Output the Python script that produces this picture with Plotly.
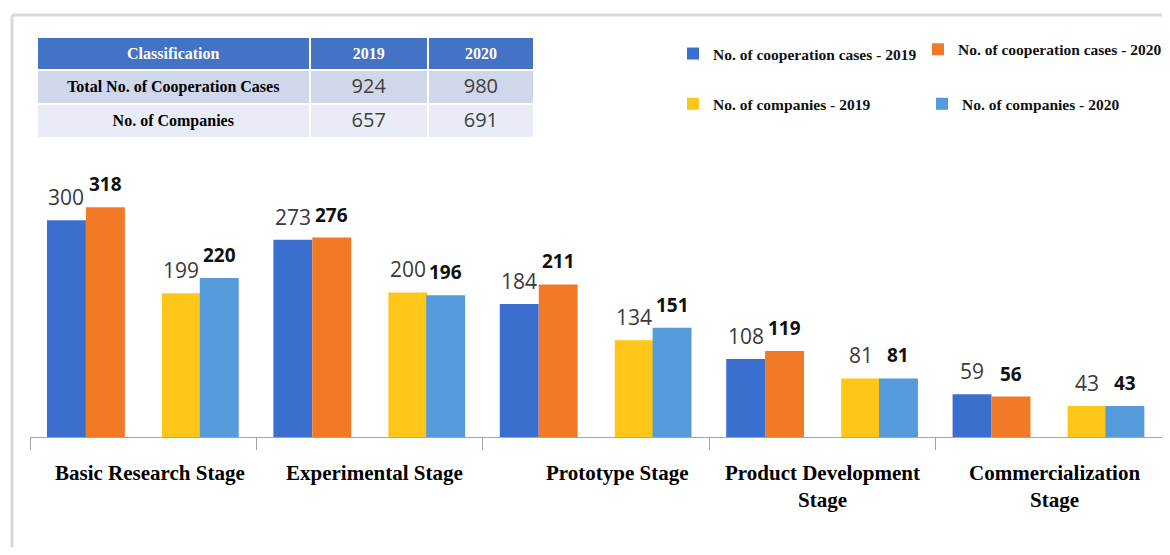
import plotly.graph_objects as go

stages = ["Basic Research Stage", "Experimental Stage", "Prototype Stage",
          "Product Development<br>Stage", "Commercialization<br>Stage"]
coop_2019 = [300, 273, 184, 108, 59]
coop_2020 = [318, 276, 211, 119, 56]
comp_2019 = [199, 200, 134, 81, 43]
comp_2020 = [220, 196, 151, 81, 43]

table_header = ["Classification", "2019", "2020"]
table_rows = ["Total No. of Cooperation Cases", "No. of Companies"]
table_2019 = [924, 657]
table_2020 = [980, 691]

# figure sits 8px into the page (body margin); paper spans page x 30..1162
PW = 1132.0
def px(page_x):
    return (page_x - 30) / PW

series = [
    ("No. of cooperation cases - 2019", coop_2019, "#3B6FCF", -0.425, False, "legend"),
    ("No. of cooperation cases - 2020", coop_2020, "#F27A26", -0.253, True, "legend2"),
    ("No. of companies - 2019", comp_2019, "#FFC61A", 0.083, False, "legend3"),
    ("No. of companies - 2020", comp_2020, "#559BDC", 0.250, True, "legend4"),
]
BW = 0.172

fig = go.Figure()
annotations = []
for name, vals, color, off, bold, leg in series:
    fig.add_trace(go.Bar(
        x=stages, y=vals, name=f"<b>{name}</b>", offset=off, width=BW,
        marker=dict(color=color, line=dict(width=0)),
        legend=leg, cliponaxis=False,
    ))
    for i, v in enumerate(vals):
        annotations.append(dict(
            x=i + off + BW / 2, y=v, xref="x", yref="y",
            text=f"<b>{v}</b>" if bold else str(v),
            showarrow=False, yanchor="middle", yshift=23,
            font=dict(family="Open Sans", size=19 if bold else 21,
                      color="#111111" if bold else "#3a3a3a"),
        ))

label_shift = [7, 5, 21, 0, 6]
for i, s in enumerate(stages):
    annotations.append(dict(
        x=i, y=0, xref="x", yref="paper", text=f"<b>{s}</b>",
        showarrow=False, yanchor="top", yshift=-22, xshift=label_shift[i],
        font=dict(family="Liberation Serif", size=21, color="#000"),
    ))

fig.add_trace(go.Table(
    domain=dict(x=[px(37), px(534)], y=[0.70, 0.948]),
    columnwidth=[272, 118, 106],
    header=dict(
        values=[f"<b>{h}</b>" for h in table_header],
        fill_color="#4472C4", line=dict(color="white", width=2),
        font=dict(family="Liberation Serif", size=16, color="white"),
        align="center", height=31,
    ),
    cells=dict(
        values=[[f"<b>{r}</b>" for r in table_rows], table_2019, table_2020],
        fill_color=[["#D0D7EA", "#E9ECF6"]] * 3,
        line=dict(color="white", width=2),
        font=dict(family=["Liberation Serif", "Open Sans", "Open Sans"],
                  size=[16, 20, 20], color=["#000000", "#404040", "#404040"]),
        align="center", height=33,
    ),
))

legend_font = dict(family="Liberation Serif", size=15.5, color="#111")
def leg(xp, y):
    return dict(orientation="h", x=px(xp), y=y, xanchor="left", yanchor="top",
                font=legend_font, itemclick=False, bgcolor="rgba(0,0,0,0)")

fig.update_layout(
    width=1154, height=539,
    margin=dict(l=22, r=0, t=7, b=110, autoexpand=False),
    paper_bgcolor="white", plot_bgcolor="white",
    barmode="overlay",
    showlegend=True,
    legend=leg(673, 0.948),
    legend2=leg(918, 0.958),
    legend3=leg(673, 0.829),
    legend4=leg(922, 0.829),
    xaxis=dict(
        type="category", domain=[0, 1], showgrid=False, showline=True,
        linecolor="#A6A6A6", linewidth=1,
        ticks="outside", tickson="boundaries", ticklen=12, tickcolor="#A6A6A6",
        showticklabels=False, range=[-0.5, 4.5],
    ),
    yaxis=dict(domain=[0, 0.680], range=[0, 397], visible=False, showgrid=False),
    annotations=annotations,
    shapes=[
        dict(type="line", xref="paper", yref="paper", x0=px(12), x1=px(12),
             y0=1.0, y1=-0.35, line=dict(color="#D9D9D9", width=3)),
        dict(type="line", xref="paper", yref="paper", x0=px(12), x1=1.0,
             y0=1.0, y1=1.0, line=dict(color="#D9D9D9", width=3)),
    ],
)

fig.write_html("out.html")
